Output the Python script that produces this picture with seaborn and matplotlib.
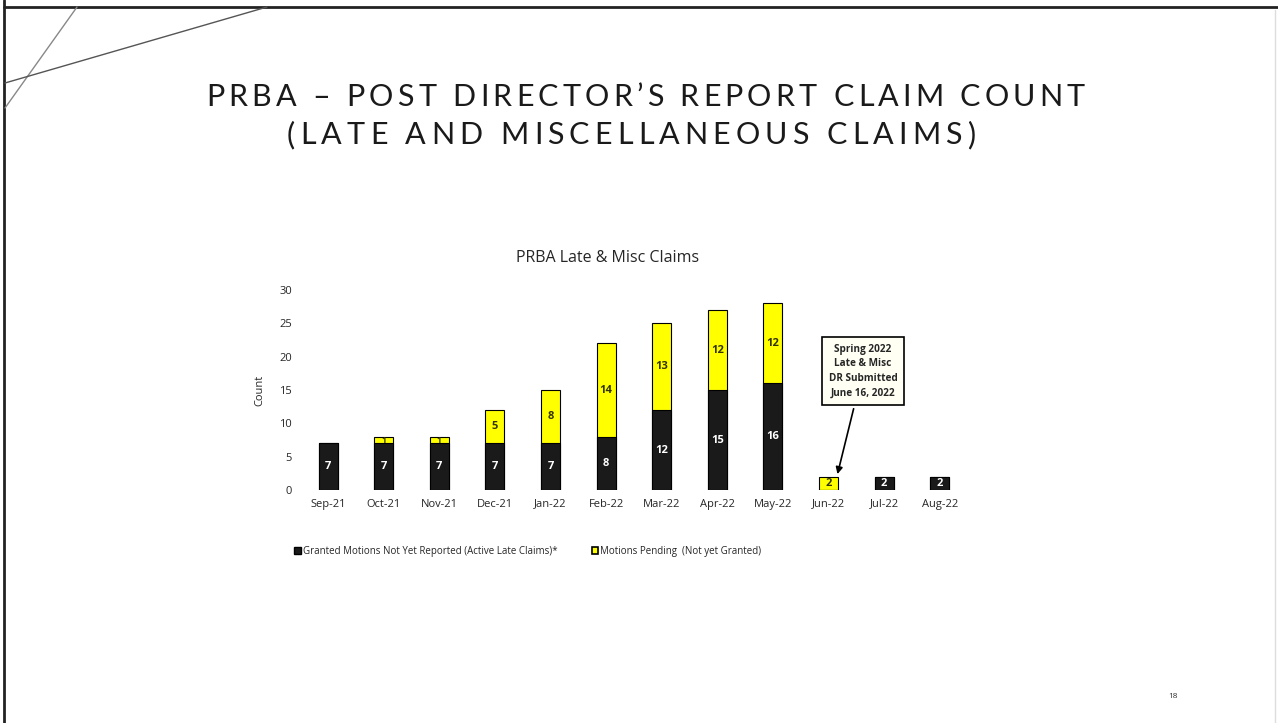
import numpy as np
import pandas as pd
import seaborn as sns
import matplotlib.pyplot as plt
from matplotlib.patches import Patch
from matplotlib.lines import Line2D
from matplotlib.font_manager import FontProperties

# chart data
months = ['Sep-21', 'Oct-21', 'Nov-21', 'Dec-21', 'Jan-22', 'Feb-22',
          'Mar-22', 'Apr-22', 'May-22', 'Jun-22', 'Jul-22', 'Aug-22']
granted = [7, 7, 7, 7, 7, 8, 12, 15, 16, 0, 2, 2]
pending = [0, 1, 1, 5, 8, 14, 13, 12, 12, 2, 0, 0]
y_ticks = [0, 5, 10, 15, 20, 25, 30]
title_lines = ['PRBA \u2013 POST DIRECTOR\u2019S REPORT CLAIM COUNT',
               '(LATE AND MISCELLANEOUS CLAIMS)']

df = pd.DataFrame({'month': months, 'granted': granted, 'pending': pending})
df['total'] = df['granted'] + df['pending']

sns.set_theme(style='white')
plt.rcParams['font.family'] = ['Open Sans', 'DejaVu Sans']

W, H = 1278, 723
fig = plt.figure(figsize=(12.78, 7.23), dpi=100)
ax = fig.add_axes([0.235, 0.322, 0.522, 0.277])

# stacked look: totals in yellow, granted drawn over in black
sns.barplot(data=df, x='month', y='total', color='#ffff00', width=0.34,
            edgecolor='black', linewidth=0.8, saturation=1, ax=ax)
sns.barplot(data=df, x='month', y='granted', color='#1a1a1a', width=0.34,
            edgecolor='black', linewidth=0.8, saturation=1, ax=ax)

for i, (g, p) in enumerate(zip(granted, pending)):
    if g > 0:
        ax.text(i, g / 2, str(g), ha='center', va='center', color='white',
                fontsize=8, fontweight='bold')
    if p > 0:
        fs = 6 if p == 1 else 8
        ax.text(i, g + p / 2, str(p), ha='center', va='center',
                color='#333300', fontsize=fs, fontweight='bold')

ax.set_ylim(0, 30)
ax.set_xlim(-0.5, len(months) - 0.5)
ax.set_yticks(y_ticks)
ax.tick_params(axis='both', labelsize=8, length=0, pad=6)
ax.set_xlabel('')
ax.set_ylabel('Count', fontsize=8, labelpad=10)
sns.despine(ax=ax, left=True, bottom=True)
ax.set_title('PRBA Late & Misc Claims', fontsize=11.5, pad=20, x=0.46)

ax.annotate('Spring 2022\nLate & Misc\nDR Submitted\nJune 16, 2022',
            xy=(9.15, 2.0), xytext=(9.62, 17.85), ha='center', va='center',
            fontsize=7.2, fontweight='bold', linespacing=1.45,
            bbox=dict(boxstyle='square,pad=0.7', fc='#fffff4', ec='black', lw=1.2),
            arrowprops=dict(arrowstyle='-|>', color='black', lw=1.2,
                            mutation_scale=10))

handles = [Patch(facecolor='#1a1a1a', edgecolor='black'),
           Patch(facecolor='#ffff00', edgecolor='black', linewidth=1.2)]
fig.legend(handles, ['Granted Motions Not Yet Reported (Active Late Claims)*',
                     'Motions Pending  (Not yet Granted)'],
           loc='center', bbox_to_anchor=(0.413, 0.237), ncol=2, frameon=False,
           fontsize=7, handlelength=0.7, handleheight=0.7, handletextpad=0.2,
           columnspacing=3.5)

# slide title with letter spacing, spread to the widths seen on the slide
renderer = fig.canvas.get_renderer()
fp = FontProperties(family=['Lato', 'DejaVu Sans'], weight='normal', size=22)
for line, (x_left, x_right, y_mid) in zip(title_lines, [(206, 1085, 95), (287, 975, 133)]):
    widths = [renderer.get_text_width_height_descent(line[:k], fp, ismath=False)[0]
              for k in range(len(line) + 1)]
    natural = widths[-1]
    track = (x_right - x_left - natural) / (len(line) - 1)
    for k, ch in enumerate(line):
        if ch == ' ':
            continue
        xp = x_left + widths[k] + k * track
        fig.text(xp / W, 1 - y_mid / H, ch, ha='left', va='center_baseline',
                 fontproperties=fp, color='#1a1a1a')

fig.text(0.918, 0.036, '18', fontsize=6, color='#333333', ha='center', va='center')

def px(x, y):
    return x / W, 1 - y / H

for (x0, y0), (x1, y1), c, lw in [((4, 0), (4, 723), '#222222', 2.0),
                                   ((4, 7), (1278, 7), '#222222', 2.0),
                                   ((1275, 10), (1275, 723), '#dddddd', 1.0),
                                   ((77, 7), (5, 108), '#888888', 1.0),
                                   ((267, 7), (5, 83), '#555555', 1.0)]:
    a, b = px(x0, y0)
    c2, d = px(x1, y1)
    fig.add_artist(Line2D([a, c2], [b, d], color=c, lw=lw, transform=fig.transFigure))

fig.savefig('out.png', dpi=100)
